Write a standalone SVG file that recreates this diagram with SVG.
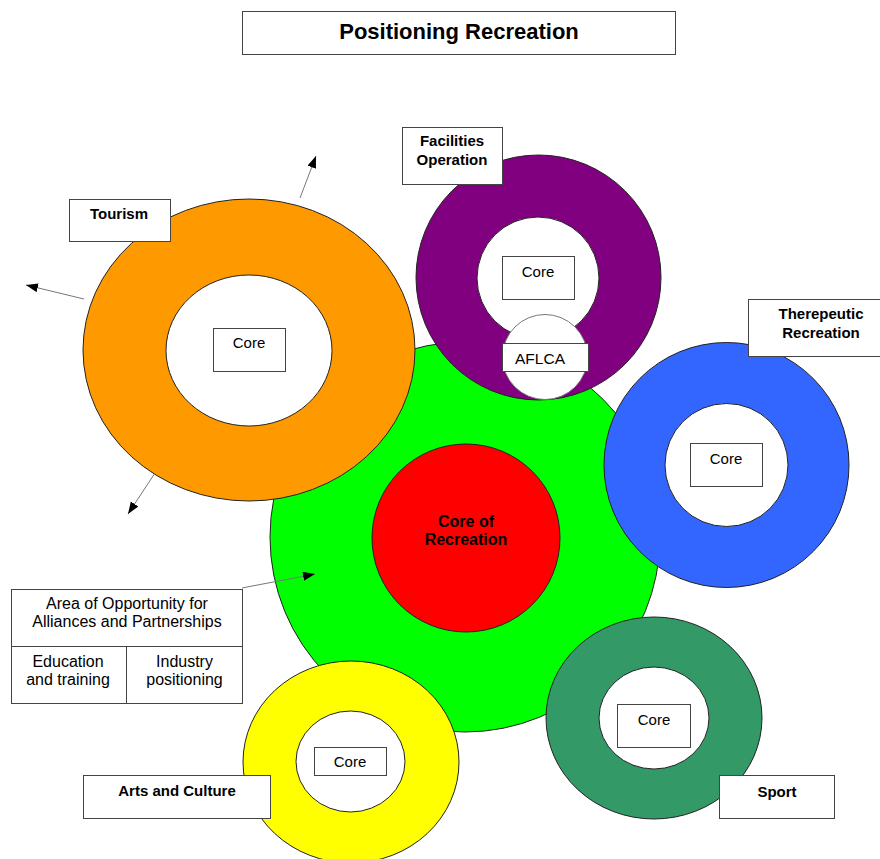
<svg xmlns="http://www.w3.org/2000/svg" width="880" height="859" viewBox="0 0 880 859">
<defs>
<style>
text{font-family:"Liberation Sans",Arial,sans-serif;fill:#000;text-anchor:middle}
.b{font-weight:bold;font-size:15px}
.r{font-size:15px}
.o{font-size:16px}
.box{fill:#fff;stroke:#444;stroke-width:1}
.ring{stroke:#222;stroke-width:1}
.hole{fill:#fff;stroke:#222;stroke-width:1}
.conn{stroke:#777;stroke-width:1;fill:none}
</style>
<marker id="ah" markerUnits="userSpaceOnUse" markerWidth="13" markerHeight="10" refX="12" refY="4.5" orient="auto">
<path d="M0,0 L12,4.5 L0,9 z" fill="#000"/>
</marker>
</defs>
<rect width="880" height="859" fill="#fff"/>

<g id="title">
<rect class="box" x="242.5" y="11.5" width="433" height="43"/>
<text x="459" y="39" style="font-weight:bold;font-size:22px">Positioning Recreation</text>
</g>

<g id="opportunity-area">
<circle cx="465" cy="537" r="195" fill="#00ff00" class="ring"/>
</g>

<g id="core-of-recreation">
<circle cx="466" cy="538" r="94" fill="#ff0000" class="ring"/>
<text class="b" x="466" y="527" style="font-size:16px">Core of</text>
<text class="b" x="466" y="545" style="font-size:16px">Recreation</text>
</g>

<g id="tourism">
<ellipse cx="249" cy="350" rx="166" ry="151" fill="#ff9900" class="ring"/>
<ellipse cx="249" cy="350.5" rx="83" ry="75.5" class="hole"/>
<rect class="box" x="213.5" y="328.5" width="72" height="43"/>
<text class="r" x="249" y="348">Core</text>
<rect class="box" x="69.5" y="199.5" width="101" height="42"/>
<text class="b" x="119" y="219">Tourism</text>
</g>

<g id="facilities-operation">
<circle cx="538.5" cy="277.5" r="122.5" fill="#800080" class="ring"/>
<circle cx="538" cy="278" r="61" class="hole"/>
<rect class="box" x="502.5" y="256.5" width="72" height="43"/>
<text class="r" x="538" y="277">Core</text>
<rect class="box" x="402.5" y="127.5" width="100" height="57"/>
<text class="b" x="452" y="146">Facilities</text>
<text class="b" x="452" y="165">Operation</text>
</g>

<g id="aflca">
<circle cx="545" cy="357" r="42.5" fill="#fff" stroke="#777" stroke-width="1"/>
<rect class="box" x="502.5" y="343.5" width="86" height="28"/>
<text x="540" y="364" style="font-size:15.5px">AFLCA</text>
</g>

<g id="therapeutic-recreation">
<circle cx="726.5" cy="465" r="122.5" fill="#3366ff" class="ring"/>
<circle cx="726.5" cy="465" r="61.5" class="hole"/>
<rect class="box" x="690.5" y="443.5" width="72" height="43"/>
<text class="r" x="726" y="464">Core</text>
<rect class="box" x="748.5" y="299.5" width="133" height="57"/>
<text class="b" x="821" y="319">Therepeutic</text>
<text class="b" x="821" y="338">Recreation</text>
</g>

<g id="arts-and-culture">
<ellipse cx="351" cy="762" rx="108" ry="101" fill="#ffff00" class="ring"/>
<ellipse cx="350.5" cy="761.5" rx="54.5" ry="50.5" class="hole"/>
<rect class="box" x="314.5" y="747.5" width="72" height="28"/>
<text class="r" x="350" y="767">Core</text>
<rect class="box" x="83.5" y="775.5" width="187" height="43"/>
<text class="b" x="177" y="796">Arts and Culture</text>
</g>

<g id="sport">
<ellipse cx="654" cy="718" rx="108" ry="101" fill="#339966" class="ring"/>
<ellipse cx="654" cy="718" rx="55" ry="51" class="hole"/>
<rect class="box" x="617.5" y="704.5" width="73" height="43"/>
<text class="r" x="654" y="725">Core</text>
<rect class="box" x="719.5" y="775.5" width="115" height="43"/>
<text class="b" x="777" y="797">Sport</text>
</g>

<g id="alliances-box">
<rect class="box" x="11.5" y="589.5" width="231" height="114"/>
<line x1="11.5" y1="646.5" x2="242.5" y2="646.5" stroke="#444"/>
<line x1="126.5" y1="646.5" x2="126.5" y2="703.5" stroke="#444"/>
<text class="o" x="127" y="609">Area of Opportunity for</text>
<text class="o" x="127" y="627">Alliances and Partnerships</text>
<text class="o" x="68" y="667">Education</text>
<text class="o" x="68" y="685">and training</text>
<text class="o" x="184.5" y="667">Industry</text>
<text class="o" x="184.5" y="685">positioning</text>
</g>

<g id="connectors">
<line class="conn" x1="300" y1="198" x2="316" y2="156" marker-end="url(#ah)"/>
<line class="conn" x1="84" y1="299" x2="26" y2="285" marker-end="url(#ah)"/>
<line class="conn" x1="155" y1="473" x2="128" y2="514" marker-end="url(#ah)"/>
<line class="conn" x1="242" y1="588" x2="315" y2="574" marker-end="url(#ah)"/>
</g>
</svg>
